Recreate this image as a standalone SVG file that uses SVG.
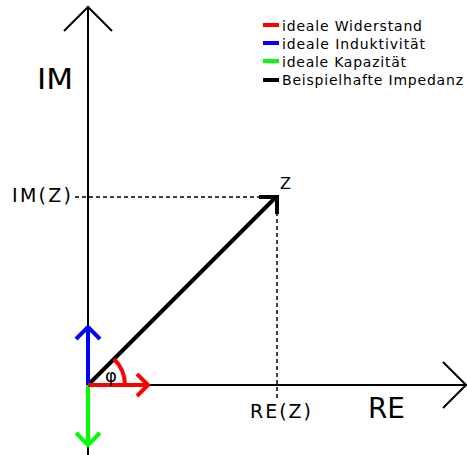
<svg xmlns="http://www.w3.org/2000/svg" width="467" height="455" viewBox="0 0 467 455">
<style>
text{font-family:"DejaVu Sans","Liberation Sans",sans-serif;fill:#000}
.ax{stroke:#000;stroke-width:2;fill:none}
.dash{stroke:#000;stroke-width:1.5;stroke-dasharray:4,3;fill:none}
.v{stroke-width:4;fill:none;stroke-linecap:butt}
.leg{font-size:14px}
</style>
<rect width="467" height="455" fill="#fff"/>
<g id="connectors">
<path class="dash" d="M75,197 H275"/>
<path class="dash" d="M277,212 V398"/>
<path class="ax" d="M88,455 V7 M64,31 L88,7 L112,31"/>
<path class="ax" d="M88,385 H466 M443,362 L466,385 L443,408"/>
<path class="v" stroke="#000" d="M88,385 L275,198 M259,197 H277 V214"/>
<path class="v" stroke="#00f" d="M88,385 V328 M76,339 L88,327 L100,339"/>
<path class="v" stroke="#0f0" d="M88,385 V444 M76,433 L88,445 L100,433"/>
<path class="v" stroke="#f00" d="M125,385 A37,37 0 0 0 114,359"/>
<path class="v" stroke="#f00" d="M88,385 H147 M137,374 L148,385 L137,396"/>
</g>
<g id="axis-labels">
<text x="37" y="89" font-size="28" textLength="36" lengthAdjust="spacingAndGlyphs">IM</text>
<text x="368" y="418" font-size="28" textLength="37" lengthAdjust="spacingAndGlyphs">RE</text>
<text x="12" y="202" font-size="19" textLength="59" lengthAdjust="spacing">IM(Z)</text>
<text x="250" y="418" font-size="19" textLength="61" lengthAdjust="spacing">RE(Z)</text>
<text x="280" y="189" font-size="16">Z</text>
<text x="105" y="382" font-size="18">φ</text>
</g>
<g id="legend">
<rect x="263" y="23" width="16" height="4" fill="#f00"/>
<rect x="263" y="41" width="16" height="4" fill="#00f"/>
<rect x="263" y="59" width="16" height="4" fill="#0f0"/>
<rect x="263" y="78" width="16" height="4" fill="#000"/>
<text class="leg" x="282" y="31" textLength="140" lengthAdjust="spacing">ideale Widerstand</text>
<text class="leg" x="282" y="49" textLength="143" lengthAdjust="spacing">ideale Induktivität</text>
<text class="leg" x="282" y="67" textLength="124" lengthAdjust="spacing">ideale Kapazität</text>
<text class="leg" x="282" y="85" textLength="181" lengthAdjust="spacing">Beispielhafte Impedanz</text>
</g>
</svg>
